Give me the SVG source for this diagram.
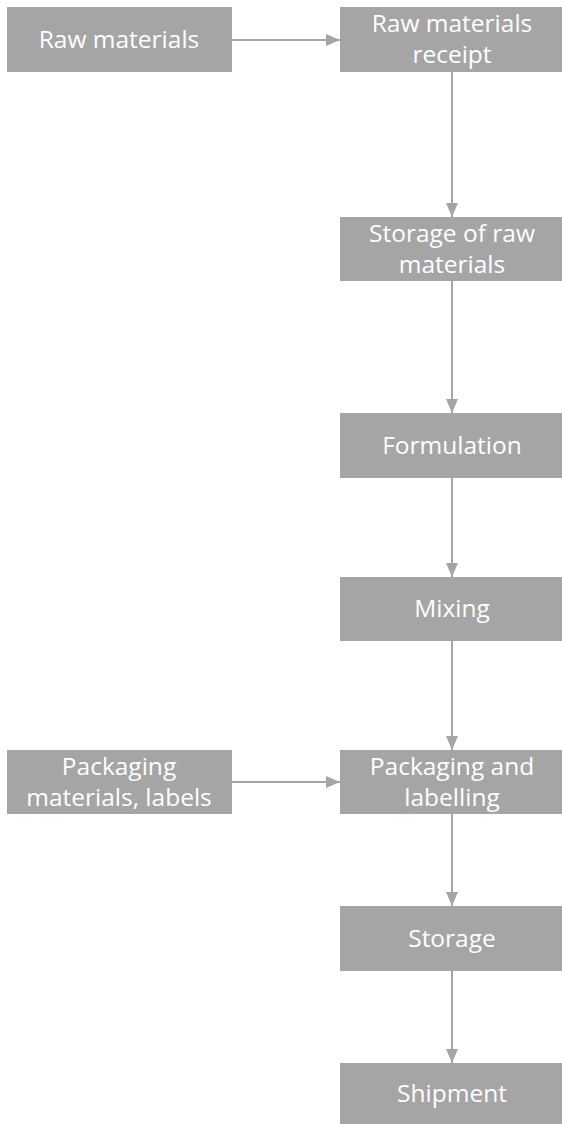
<svg xmlns="http://www.w3.org/2000/svg" width="562" height="1124" viewBox="0 0 562 1124">
<style>
.box{fill:#a5a5a5}
.t{fill:#ffffff;font-family:"Open Sans","Liberation Sans",sans-serif;font-size:24.5px;text-anchor:middle}
.c{stroke:#a5a5a5;stroke-width:2;fill:none;marker-end:url(#ah)}
</style>
<defs>
<marker id="ah" viewBox="0 0 14 12" refX="14" refY="6" markerWidth="14" markerHeight="12" markerUnits="userSpaceOnUse" orient="auto">
<path d="M0,0 L14,6 L0,12 z" fill="#a5a5a5"/>
</marker>
</defs>
<rect width="562" height="1124" fill="#ffffff"/>
<g id="connectors">
<path class="c" d="M232,40 H340"/>
<path class="c" d="M452,72 V217"/>
<path class="c" d="M452,281 V413"/>
<path class="c" d="M452,478 V577"/>
<path class="c" d="M452,641 V750"/>
<path class="c" d="M232,782 H340"/>
<path class="c" d="M452,814 V906"/>
<path class="c" d="M452,971 V1063"/>
</g>
<g id="n1"><rect class="box" x="7" y="7" width="225" height="65"/><text class="t" x="119" y="48">Raw materials</text></g>
<g id="n2"><rect class="box" x="340" y="7" width="222" height="65"/><text class="t" x="452" y="32">Raw materials</text><text class="t" x="452" y="63">receipt</text></g>
<g id="n3"><rect class="box" x="340" y="217" width="222" height="64"/><text class="t" x="452" y="242">Storage of raw</text><text class="t" x="452" y="273">materials</text></g>
<g id="n4"><rect class="box" x="340" y="413" width="222" height="65"/><text class="t" x="452" y="454">Formulation</text></g>
<g id="n5"><rect class="box" x="340" y="577" width="222" height="64"/><text class="t" x="452" y="617">Mixing</text></g>
<g id="n6"><rect class="box" x="7" y="750" width="225" height="64"/><text class="t" x="119" y="775">Packaging</text><text class="t" x="119" y="806">materials, labels</text></g>
<g id="n7"><rect class="box" x="340" y="750" width="222" height="64"/><text class="t" x="452" y="775">Packaging and</text><text class="t" x="452" y="806">labelling</text></g>
<g id="n8"><rect class="box" x="340" y="906" width="222" height="65"/><text class="t" x="452" y="947">Storage</text></g>
<g id="n9"><rect class="box" x="340" y="1063" width="222" height="61"/><text class="t" x="452" y="1102">Shipment</text></g>
</svg>
